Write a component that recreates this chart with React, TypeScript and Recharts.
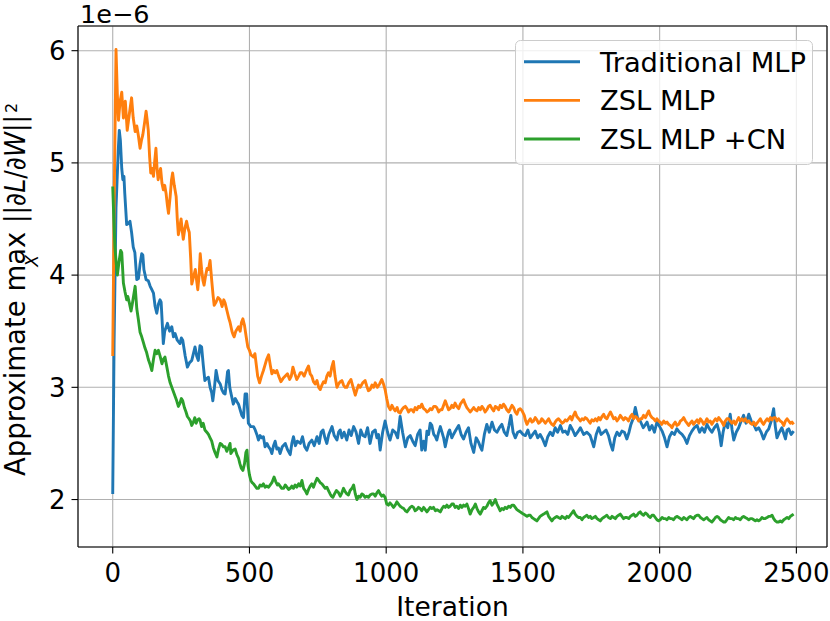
import { LineChart, Line, XAxis, YAxis, CartesianGrid, Legend, ReferenceLine } from 'recharts';

// iteration, value (x 1e-6)
const traditionalMlp: [number, number][] = [
  [0, 2.05], [5, 3.4], [12, 4.6], [20, 5.1], [24, 5.29], [28, 5.2], [33, 4.95], [37, 4.85], [41, 4.88], [44, 4.73],
  [51, 4.45], [57, 4.46], [63, 4.48], [69, 4.38], [75, 4.25], [81, 4.2], [88, 3.96], [94, 3.97], [100, 4.1], [106, 4.19],
  [110, 4.18], [114, 4.05], [122, 3.96], [130, 3.95], [137, 3.9], [143, 3.87], [149, 3.84], [155, 3.72], [161, 3.66], [167, 3.74],
  [173, 3.78], [177, 3.76], [185, 3.39], [190, 3.5], [200, 3.57], [208, 3.5], [216, 3.54], [222, 3.45], [228, 3.48], [236, 3.42],
  [246, 3.39], [251, 3.44], [256, 3.42], [265, 3.28], [273, 3.18], [281, 3.22], [289, 3.24], [295, 3.3], [301, 3.36], [307, 3.28],
  [313, 3.24], [319, 3.37], [325, 3.36], [331, 3.2], [337, 3.06], [344, 3.08], [350, 3.09], [356, 3.0], [362, 2.95], [366, 2.88],
  [372, 3.0], [378, 3.15], [385, 3.06], [393, 3.03], [399, 2.98], [405, 2.95], [411, 2.94], [420, 3.14], [423, 3.15], [428, 3.0],
  [432, 2.95], [441, 2.85], [448, 2.9], [455, 2.87], [460, 2.85], [466, 2.8], [472, 2.75], [478, 2.73], [484, 2.94], [490, 2.94],
  [496, 2.68], [505, 2.65], [515, 2.65], [521, 2.62], [527, 2.58], [533, 2.53], [539, 2.57], [545, 2.55], [551, 2.56], [557, 2.47],
  [564, 2.5], [570, 2.47], [576, 2.45], [582, 2.41], [588, 2.48], [594, 2.52], [600, 2.45], [606, 2.46], [612, 2.41], [620, 2.47],
  [631, 2.5], [640, 2.44], [649, 2.4], [655, 2.5], [661, 2.56], [668, 2.48], [675, 2.52], [686, 2.5], [694, 2.56], [702, 2.47],
  [710, 2.44], [718, 2.5], [728, 2.53], [737, 2.48], [747, 2.56], [755, 2.5], [762, 2.6], [769, 2.62], [776, 2.55], [783, 2.5],
  [790, 2.58], [802, 2.65], [810, 2.57], [820, 2.53], [826, 2.6], [832, 2.62], [838, 2.55], [846, 2.6], [856, 2.53], [864, 2.62],
  [872, 2.57], [881, 2.65], [890, 2.6], [899, 2.5], [907, 2.62], [915, 2.57], [923, 2.56], [932, 2.64], [941, 2.5], [950, 2.6],
  [960, 2.62], [966, 2.55], [972, 2.58], [978, 2.44], [987, 2.6], [996, 2.7], [1005, 2.6], [1014, 2.53], [1024, 2.62], [1033, 2.6],
  [1042, 2.55], [1051, 2.74], [1060, 2.6], [1070, 2.47], [1079, 2.55], [1088, 2.57], [1097, 2.52], [1106, 2.48], [1115, 2.58], [1124, 2.62],
  [1130, 2.44], [1137, 2.52], [1143, 2.44], [1149, 2.61], [1155, 2.58], [1161, 2.68], [1167, 2.66], [1174, 2.58], [1180, 2.56], [1185, 2.53],
  [1192, 2.6], [1198, 2.65], [1204, 2.6], [1210, 2.55], [1216, 2.47], [1222, 2.54], [1228, 2.6], [1232, 2.62], [1240, 2.55], [1246, 2.58],
  [1255, 2.62], [1265, 2.66], [1274, 2.58], [1283, 2.54], [1292, 2.6], [1301, 2.64], [1310, 2.5], [1320, 2.42], [1329, 2.55], [1338, 2.51],
  [1344, 2.47], [1350, 2.44], [1359, 2.58], [1368, 2.67], [1377, 2.6], [1387, 2.69], [1396, 2.62], [1405, 2.6], [1414, 2.64], [1423, 2.67],
  [1432, 2.6], [1441, 2.57], [1449, 2.66], [1456, 2.75], [1464, 2.6], [1472, 2.55], [1481, 2.6], [1490, 2.61], [1500, 2.58], [1509, 2.57],
  [1518, 2.62], [1527, 2.55], [1536, 2.58], [1545, 2.61], [1554, 2.55], [1563, 2.58], [1572, 2.54], [1582, 2.48], [1591, 2.56], [1600, 2.6],
  [1609, 2.57], [1618, 2.64], [1627, 2.6], [1637, 2.66], [1646, 2.6], [1655, 2.61], [1664, 2.58], [1673, 2.66], [1682, 2.62], [1691, 2.57],
  [1700, 2.6], [1710, 2.64], [1722, 2.58], [1734, 2.6], [1746, 2.57], [1759, 2.47], [1768, 2.58], [1777, 2.64], [1786, 2.58], [1795, 2.6],
  [1804, 2.62], [1813, 2.57], [1820, 2.5], [1828, 2.44], [1836, 2.55], [1844, 2.6], [1853, 2.57], [1862, 2.61], [1871, 2.6], [1880, 2.54],
  [1888, 2.6], [1895, 2.67], [1903, 2.72], [1911, 2.82], [1920, 2.72], [1929, 2.7], [1940, 2.64], [1954, 2.69], [1963, 2.62], [1972, 2.66],
  [1981, 2.6], [1990, 2.69], [2000, 2.65], [2009, 2.61], [2018, 2.55], [2027, 2.47], [2036, 2.56], [2045, 2.6], [2054, 2.58], [2063, 2.63],
  [2072, 2.6], [2082, 2.58], [2091, 2.55], [2100, 2.5], [2109, 2.57], [2118, 2.61], [2127, 2.64], [2137, 2.66], [2146, 2.6], [2155, 2.64],
  [2164, 2.6], [2173, 2.67], [2182, 2.63], [2191, 2.6], [2200, 2.64], [2210, 2.67], [2218, 2.6], [2225, 2.48], [2232, 2.6], [2240, 2.69],
  [2249, 2.64], [2258, 2.76], [2265, 2.62], [2271, 2.53], [2280, 2.6], [2289, 2.64], [2298, 2.7], [2307, 2.75], [2316, 2.68], [2326, 2.76],
  [2335, 2.7], [2344, 2.67], [2353, 2.62], [2362, 2.64], [2371, 2.6], [2380, 2.54], [2390, 2.6], [2399, 2.63], [2408, 2.7], [2417, 2.81],
  [2423, 2.65], [2429, 2.55], [2438, 2.6], [2447, 2.64], [2455, 2.58], [2460, 2.54], [2466, 2.62], [2472, 2.63], [2481, 2.58], [2490, 2.61],
];

const zslMlp: [number, number][] = [
  [0, 3.28], [6, 4.8], [12, 6.01], [17, 5.6], [21, 5.38], [27, 5.55], [33, 5.63], [39, 5.4], [46, 5.55], [53, 5.29],
  [61, 5.44], [69, 5.58], [75, 5.4], [82, 5.28], [88, 5.33], [94, 5.24], [100, 5.13], [105, 5.2], [110, 5.25], [116, 5.35],
  [122, 5.46], [126, 5.38], [130, 5.29], [135, 5.05], [139, 4.91], [144, 4.95], [149, 4.88], [153, 5.0], [158, 5.13], [162, 4.95],
  [166, 4.85], [170, 4.9], [175, 4.95], [180, 4.82], [185, 4.76], [190, 4.8], [195, 4.73], [200, 4.62], [204, 4.55], [210, 4.7],
  [215, 4.85], [219, 4.91], [225, 4.8], [232, 4.7], [236, 4.5], [240, 4.36], [245, 4.42], [250, 4.5], [254, 4.4], [258, 4.32],
  [264, 4.42], [270, 4.48], [275, 4.42], [280, 4.38], [285, 4.15], [289, 3.92], [295, 3.98], [302, 4.05], [307, 3.95], [311, 3.87],
  [316, 4.0], [320, 4.19], [325, 4.05], [330, 3.95], [334, 3.91], [340, 4.0], [345, 4.06], [350, 4.05], [356, 4.13], [362, 3.95],
  [367, 3.82], [371, 3.73], [378, 3.76], [385, 3.8], [393, 3.78], [400, 3.72], [406, 3.78], [411, 3.75], [418, 3.68], [424, 3.62],
  [429, 3.58], [436, 3.5], [440, 3.47], [444, 3.45], [450, 3.5], [455, 3.52], [460, 3.54], [466, 3.5], [471, 3.58], [476, 3.61],
  [482, 3.55], [488, 3.45], [494, 3.36], [500, 3.33], [505, 3.29], [510, 3.28], [515, 3.27], [520, 3.3], [525, 3.2], [530, 3.1],
  [537, 3.04], [544, 3.1], [551, 3.15], [557, 3.2], [563, 3.25], [570, 3.29], [576, 3.2], [582, 3.12], [588, 3.15], [594, 3.13],
  [600, 3.15], [607, 3.1], [615, 3.05], [623, 3.08], [631, 3.1], [639, 3.12], [647, 3.07], [653, 3.1], [659, 3.18], [666, 3.12],
  [673, 3.07], [680, 3.1], [686, 3.13], [692, 3.13], [700, 3.1], [708, 3.15], [716, 3.19], [722, 3.12], [728, 3.1], [734, 3.05],
  [740, 3.03], [747, 3.06], [753, 3.0], [759, 2.98], [765, 3.02], [771, 3.05], [777, 3.04], [783, 3.1], [789, 3.13], [795, 3.1],
  [801, 3.18], [807, 3.23], [813, 3.1], [820, 3.0], [826, 3.03], [832, 3.05], [838, 3.06], [844, 3.02], [850, 3.0], [856, 3.0],
  [863, 3.04], [871, 3.07], [879, 3.0], [887, 2.93], [893, 2.98], [899, 3.02], [905, 3.0], [914, 3.04], [923, 3.06], [929, 3.01],
  [935, 2.97], [941, 2.98], [948, 3.02], [954, 3.0], [960, 3.04], [968, 3.0], [976, 3.03], [984, 3.07], [990, 3.03], [996, 2.98],
  [1002, 2.9], [1008, 2.83], [1015, 2.8], [1021, 2.84], [1027, 2.81], [1033, 2.79], [1040, 2.82], [1045, 2.78], [1051, 2.77], [1057, 2.8],
  [1064, 2.82], [1070, 2.83], [1076, 2.81], [1082, 2.78], [1088, 2.8], [1094, 2.8], [1100, 2.78], [1106, 2.82], [1112, 2.8], [1118, 2.83],
  [1124, 2.82], [1130, 2.85], [1137, 2.81], [1143, 2.8], [1149, 2.78], [1155, 2.79], [1161, 2.81], [1167, 2.8], [1174, 2.83], [1180, 2.83],
  [1185, 2.82], [1192, 2.78], [1198, 2.8], [1204, 2.8], [1210, 2.84], [1216, 2.88], [1222, 2.84], [1228, 2.8], [1234, 2.81], [1240, 2.84],
  [1246, 2.82], [1252, 2.86], [1258, 2.83], [1265, 2.81], [1271, 2.85], [1277, 2.87], [1283, 2.89], [1289, 2.85], [1295, 2.82], [1301, 2.8],
  [1307, 2.78], [1314, 2.8], [1320, 2.82], [1326, 2.8], [1332, 2.79], [1338, 2.82], [1344, 2.8], [1350, 2.83], [1356, 2.81], [1362, 2.78],
  [1368, 2.8], [1374, 2.83], [1380, 2.84], [1387, 2.81], [1393, 2.79], [1399, 2.83], [1405, 2.82], [1411, 2.8], [1417, 2.84], [1423, 2.82],
  [1429, 2.85], [1435, 2.83], [1441, 2.8], [1448, 2.78], [1454, 2.81], [1460, 2.84], [1466, 2.82], [1472, 2.78], [1478, 2.76], [1484, 2.8],
  [1490, 2.81], [1497, 2.79], [1505, 2.75], [1510, 2.7], [1515, 2.67], [1521, 2.7], [1527, 2.72], [1533, 2.69], [1539, 2.7], [1545, 2.73],
  [1551, 2.71], [1557, 2.68], [1563, 2.69], [1569, 2.72], [1576, 2.7], [1582, 2.68], [1588, 2.7], [1594, 2.72], [1600, 2.69], [1606, 2.67],
  [1612, 2.66], [1618, 2.69], [1624, 2.71], [1630, 2.72], [1637, 2.7], [1643, 2.68], [1649, 2.69], [1655, 2.71], [1661, 2.7], [1667, 2.72],
  [1673, 2.74], [1679, 2.71], [1685, 2.75], [1691, 2.78], [1697, 2.74], [1704, 2.72], [1710, 2.7], [1716, 2.72], [1722, 2.71], [1728, 2.73],
  [1734, 2.72], [1740, 2.7], [1746, 2.68], [1752, 2.71], [1759, 2.7], [1765, 2.72], [1771, 2.7], [1777, 2.73], [1783, 2.71], [1789, 2.74],
  [1795, 2.76], [1801, 2.73], [1807, 2.72], [1813, 2.75], [1820, 2.78], [1826, 2.75], [1832, 2.72], [1838, 2.73], [1844, 2.7], [1850, 2.72],
  [1856, 2.75], [1862, 2.73], [1868, 2.71], [1874, 2.73], [1880, 2.72], [1886, 2.7], [1893, 2.74], [1899, 2.76], [1905, 2.72], [1911, 2.74],
  [1917, 2.73], [1923, 2.7], [1929, 2.72], [1935, 2.72], [1941, 2.75], [1948, 2.73], [1954, 2.76], [1960, 2.79], [1966, 2.75], [1972, 2.73],
  [1978, 2.72], [1984, 2.7], [1990, 2.72], [1996, 2.7], [2002, 2.69], [2008, 2.67], [2015, 2.7], [2021, 2.68], [2027, 2.69], [2033, 2.67],
  [2039, 2.66], [2045, 2.64], [2051, 2.67], [2057, 2.69], [2063, 2.66], [2070, 2.67], [2076, 2.7], [2082, 2.71], [2088, 2.73], [2094, 2.7],
  [2100, 2.68], [2106, 2.66], [2112, 2.68], [2118, 2.7], [2124, 2.67], [2130, 2.69], [2137, 2.71], [2143, 2.68], [2149, 2.72], [2155, 2.7],
  [2161, 2.67], [2167, 2.69], [2173, 2.72], [2179, 2.69], [2185, 2.7], [2191, 2.67], [2198, 2.7], [2204, 2.72], [2210, 2.7], [2216, 2.73],
  [2222, 2.71], [2228, 2.69], [2234, 2.66], [2240, 2.7], [2246, 2.72], [2252, 2.72], [2258, 2.7], [2265, 2.68], [2271, 2.7], [2277, 2.67],
  [2283, 2.7], [2289, 2.73], [2295, 2.7], [2301, 2.72], [2307, 2.7], [2313, 2.72], [2320, 2.69], [2326, 2.7], [2332, 2.68], [2338, 2.67],
  [2344, 2.69], [2350, 2.66], [2356, 2.68], [2362, 2.7], [2368, 2.72], [2374, 2.69], [2380, 2.67], [2387, 2.7], [2393, 2.72], [2399, 2.7],
  [2405, 2.73], [2411, 2.71], [2417, 2.73], [2423, 2.73], [2429, 2.7], [2435, 2.72], [2441, 2.7], [2447, 2.69], [2454, 2.66], [2460, 2.7],
  [2466, 2.72], [2472, 2.7], [2478, 2.68], [2484, 2.69], [2490, 2.67],
];

const zslMlpCn: [number, number][] = [
  [0, 4.79], [4, 4.5], [8, 4.25], [13, 4.1], [17, 4.0], [22, 4.1], [29, 4.22], [33, 4.2], [39, 3.93], [45, 3.85],
  [51, 3.78], [55, 3.81], [61, 3.75], [67, 3.68], [72, 3.75], [78, 3.84], [82, 3.9], [88, 3.7], [94, 3.6], [100, 3.49],
  [106, 3.45], [112, 3.4], [118, 3.35], [124, 3.31], [130, 3.25], [137, 3.2], [143, 3.15], [149, 3.25], [155, 3.33], [161, 3.3],
  [167, 3.33], [173, 3.28], [180, 3.21], [185, 3.25], [191, 3.27], [198, 3.18], [204, 3.1], [210, 3.04], [216, 3.0], [222, 2.96],
  [228, 2.92], [234, 2.88], [240, 2.83], [246, 2.86], [251, 2.9], [256, 2.88], [262, 2.82], [268, 2.78], [273, 2.74], [279, 2.72],
  [284, 2.7], [289, 2.66], [295, 2.69], [300, 2.73], [305, 2.68], [310, 2.71], [316, 2.72], [319, 2.71], [325, 2.65], [331, 2.68],
  [337, 2.62], [344, 2.6], [350, 2.58], [356, 2.55], [362, 2.52], [368, 2.46], [374, 2.42], [381, 2.38], [387, 2.45], [393, 2.5],
  [399, 2.49], [405, 2.47], [411, 2.47], [417, 2.43], [423, 2.46], [429, 2.5], [432, 2.41], [440, 2.44], [448, 2.45], [454, 2.4],
  [460, 2.37], [465, 2.32], [470, 2.28], [476, 2.26], [482, 2.32], [487, 2.42], [491, 2.44], [495, 2.3], [500, 2.22], [505, 2.17],
  [510, 2.15], [515, 2.14], [521, 2.12], [527, 2.1], [533, 2.1], [539, 2.13], [545, 2.12], [551, 2.14], [557, 2.11], [563, 2.12],
  [570, 2.11], [576, 2.13], [582, 2.15], [590, 2.2], [596, 2.16], [602, 2.13], [606, 2.14], [612, 2.12], [618, 2.1], [625, 2.1],
  [631, 2.13], [637, 2.11], [643, 2.09], [649, 2.1], [655, 2.12], [661, 2.1], [667, 2.13], [673, 2.11], [680, 2.14], [686, 2.12],
  [692, 2.17], [698, 2.1], [704, 2.08], [710, 2.05], [716, 2.09], [722, 2.12], [728, 2.14], [734, 2.11], [740, 2.15], [747, 2.19],
  [753, 2.17], [759, 2.15], [765, 2.14], [771, 2.12], [777, 2.1], [783, 2.11], [789, 2.08], [795, 2.05], [800, 2.03], [805, 2.02],
  [811, 2.05], [818, 2.08], [826, 2.06], [832, 2.03], [838, 2.06], [844, 2.1], [850, 2.07], [856, 2.05], [862, 2.04], [868, 2.08],
  [875, 2.1], [881, 2.13], [887, 2.05], [893, 2.0], [899, 2.03], [905, 2.02], [911, 2.05], [917, 2.04], [923, 2.02], [929, 2.03],
  [935, 2.02], [941, 2.04], [948, 2.05], [954, 2.05], [960, 2.03], [966, 2.06], [972, 2.08], [978, 2.05], [984, 2.03], [990, 2.04],
  [996, 2.02], [1002, 1.96], [1008, 1.95], [1014, 1.97], [1021, 1.95], [1027, 1.93], [1033, 1.95], [1039, 1.98], [1045, 1.96], [1051, 1.94],
  [1057, 1.93], [1064, 1.92], [1070, 1.9], [1076, 1.89], [1082, 1.91], [1088, 1.93], [1094, 1.94], [1100, 1.93], [1106, 1.9], [1112, 1.91],
  [1118, 1.93], [1124, 1.92], [1130, 1.9], [1137, 1.93], [1143, 1.91], [1149, 1.89], [1155, 1.91], [1161, 1.93], [1167, 1.92], [1173, 1.93],
  [1180, 1.9], [1186, 1.91], [1192, 1.9], [1198, 1.89], [1204, 1.92], [1210, 1.94], [1216, 1.93], [1222, 1.95], [1228, 1.93], [1234, 1.94],
  [1240, 1.96], [1246, 1.96], [1252, 1.93], [1258, 1.94], [1265, 1.92], [1271, 1.95], [1277, 1.93], [1283, 1.95], [1289, 1.94], [1295, 1.96],
  [1301, 1.92], [1307, 1.87], [1314, 1.91], [1320, 1.93], [1326, 1.96], [1332, 1.92], [1338, 1.89], [1344, 1.87], [1350, 1.9], [1356, 1.93],
  [1362, 1.92], [1368, 1.94], [1374, 1.97], [1380, 1.99], [1387, 1.95], [1393, 1.97], [1399, 2.0], [1405, 1.96], [1411, 1.93], [1417, 1.9],
  [1423, 1.92], [1429, 1.91], [1435, 1.93], [1441, 1.92], [1448, 1.94], [1454, 1.93], [1460, 1.95], [1466, 1.95], [1472, 1.93], [1478, 1.91],
  [1484, 1.9], [1490, 1.89], [1496, 1.88], [1502, 1.87], [1509, 1.86], [1515, 1.85], [1521, 1.86], [1527, 1.86], [1533, 1.84], [1539, 1.83],
  [1545, 1.82], [1551, 1.81], [1557, 1.83], [1563, 1.85], [1569, 1.86], [1576, 1.87], [1582, 1.88], [1588, 1.89], [1594, 1.85], [1600, 1.83],
  [1606, 1.81], [1612, 1.83], [1618, 1.84], [1624, 1.85], [1630, 1.84], [1637, 1.83], [1643, 1.85], [1649, 1.84], [1655, 1.83], [1661, 1.85],
  [1667, 1.84], [1673, 1.86], [1679, 1.88], [1685, 1.9], [1691, 1.87], [1698, 1.85], [1704, 1.84], [1710, 1.84], [1716, 1.82], [1722, 1.84],
  [1728, 1.85], [1734, 1.86], [1740, 1.84], [1746, 1.85], [1752, 1.83], [1759, 1.84], [1765, 1.85], [1771, 1.83], [1777, 1.82], [1783, 1.81],
  [1789, 1.83], [1795, 1.84], [1801, 1.85], [1807, 1.86], [1813, 1.84], [1820, 1.83], [1826, 1.85], [1832, 1.84], [1838, 1.83], [1844, 1.85],
  [1850, 1.86], [1856, 1.87], [1862, 1.85], [1868, 1.83], [1874, 1.84], [1880, 1.84], [1887, 1.83], [1893, 1.85], [1899, 1.86], [1905, 1.87],
  [1911, 1.85], [1917, 1.86], [1923, 1.88], [1929, 1.89], [1935, 1.87], [1941, 1.86], [1948, 1.88], [1954, 1.87], [1960, 1.85], [1966, 1.84],
  [1972, 1.86], [1978, 1.86], [1984, 1.84], [1990, 1.82], [1996, 1.81], [2002, 1.82], [2009, 1.84], [2015, 1.83], [2021, 1.83], [2027, 1.82],
  [2033, 1.84], [2039, 1.83], [2045, 1.83], [2051, 1.82], [2057, 1.84], [2063, 1.85], [2070, 1.84], [2076, 1.83], [2082, 1.82], [2088, 1.84],
  [2094, 1.83], [2100, 1.82], [2106, 1.84], [2112, 1.85], [2118, 1.84], [2124, 1.83], [2130, 1.85], [2137, 1.86], [2143, 1.86], [2149, 1.84],
  [2155, 1.83], [2161, 1.82], [2167, 1.83], [2173, 1.84], [2179, 1.82], [2185, 1.81], [2191, 1.8], [2198, 1.82], [2204, 1.84], [2210, 1.85],
  [2216, 1.84], [2222, 1.82], [2228, 1.81], [2234, 1.8], [2240, 1.8], [2246, 1.82], [2252, 1.84], [2258, 1.83], [2265, 1.83], [2271, 1.82],
  [2277, 1.84], [2283, 1.83], [2289, 1.83], [2295, 1.82], [2301, 1.84], [2307, 1.85], [2313, 1.84], [2320, 1.83], [2326, 1.82], [2332, 1.83],
  [2338, 1.83], [2344, 1.82], [2350, 1.81], [2356, 1.82], [2362, 1.81], [2368, 1.82], [2374, 1.84], [2380, 1.83], [2386, 1.83], [2393, 1.84],
  [2399, 1.85], [2405, 1.85], [2411, 1.86], [2417, 1.83], [2423, 1.81], [2429, 1.8], [2435, 1.8], [2441, 1.81], [2447, 1.8], [2454, 1.82],
  [2460, 1.83], [2466, 1.84], [2472, 1.83], [2478, 1.85], [2484, 1.86], [2490, 1.87],
];

const seriesNames = ['Traditional MLP', 'ZSL MLP', 'ZSL MLP +CN'];
const seriesColors = ['#1f77b4', '#ff7f0e', '#2ca02c'];
const xTicks = [0, 500, 1000, 1500, 2000, 2500];
const yTicks = [2, 3, 4, 5, 6];

const X_DOMAIN: [number, number] = [-127, 2612];
const Y_DOMAIN: [number, number] = [1.577, 6.22];
const FONT = 'DejaVu Sans, sans-serif';

const toRows = (pts: [number, number][]) => pts.map(([it, v]) => ({ it, v }));
const allSeries = [traditionalMlp, zslMlp, zslMlpCn].map(toRows);

function LegendBox() {
  return (
    <svg width={298} height={125} style={{ display: 'block' }}>
      <rect x={0.5} y={0.5} width={297} height={124} rx={5} fill="rgba(255,255,255,0.8)" stroke="#cccccc" strokeWidth={1} />
      {seriesNames.map((name, i) => {
        const cy = 21.7 + i * 38.65;
        return (
          <g key={name}>
            <line x1={9} x2={65} y1={cy} y2={cy} stroke={seriesColors[i]} strokeWidth={2.9} />
            <text x={85} y={cy + 9.8} fontSize={27.3} fontFamily={FONT} fill="#000">{name}</text>
          </g>
        );
      })}
    </svg>
  );
}

export default function App() {
  const tickStyle = { fill: '#000', fontSize: 26, fontFamily: FONT };
  return (
    <div style={{ position: 'absolute', left: 0, top: 0, width: 830, height: 621, background: '#fff' }}>
      <LineChart width={830} height={621} margin={{ top: 26, right: 3, bottom: 0, left: 0 }}>
        <CartesianGrid stroke="#b0b0b0" strokeWidth={1.1} />
        <XAxis
          type="number"
          dataKey="it"
          domain={X_DOMAIN}
          ticks={xTicks}
          allowDataOverflow
          height={74}
          tick={tickStyle}
          tickSize={6.5}
          tickMargin={10}
          axisLine={{ stroke: '#000', strokeWidth: 1.1 }}
          tickLine={{ stroke: '#000', strokeWidth: 1.1 }}
        />
        <YAxis
          type="number"
          domain={Y_DOMAIN}
          ticks={yTicks}
          allowDataOverflow
          width={78}
          tick={tickStyle}
          tickSize={6.5}
          tickMargin={6}
          axisLine={{ stroke: '#000', strokeWidth: 1.1 }}
          tickLine={{ stroke: '#000', strokeWidth: 1.1 }}
        />
        <ReferenceLine y={Y_DOMAIN[1]} stroke="#000" strokeWidth={1.1} />
        <ReferenceLine x={X_DOMAIN[1]} stroke="#000" strokeWidth={1.1} />
        {allSeries.map((rows, i) => (
          <Line
            key={seriesNames[i]}
            data={rows}
            dataKey="v"
            name={seriesNames[i]}
            type="linear"
            stroke={seriesColors[i]}
            strokeWidth={2.9}
            strokeLinejoin="round"
            dot={false}
            activeDot={false}
            isAnimationActive={false}
          />
        ))}
        <Legend
          layout="horizontal"
          verticalAlign="middle"
          align="center"
          content={() => <LegendBox />}
          wrapperStyle={{ left: 515, top: 40, width: 298, height: 125 }}
        />
      </LineChart>
      <svg width={830} height={621} style={{ position: 'absolute', left: 0, top: 0, pointerEvents: 'none' }}>
        <text x={80} y={23} fontSize={25.5} fontFamily={FONT} fill="#000">1e−6</text>
        <text x={452.5} y={616} fontSize={26.5} fontFamily={FONT} fill="#000" textAnchor="middle">Iteration</text>
        <g transform="translate(25,290) rotate(-90)" fontFamily={FONT} fill="#000">
          <text x={-186} y={0} fontSize={27.5}>Approximate max</text>
          <text x={29} y={13} fontSize={17} fontStyle="italic" textAnchor="middle">X</text>
          <text x={67} y={0} fontSize={27.5} textLength={108} lengthAdjust="spacingAndGlyphs">
            ||∂<tspan fontStyle="italic">L</tspan>/∂<tspan fontStyle="italic">W</tspan>||
          </text>
          <text x={177} y={-8} fontSize={16}>2</text>
        </g>
      </svg>
    </div>
  );
}
